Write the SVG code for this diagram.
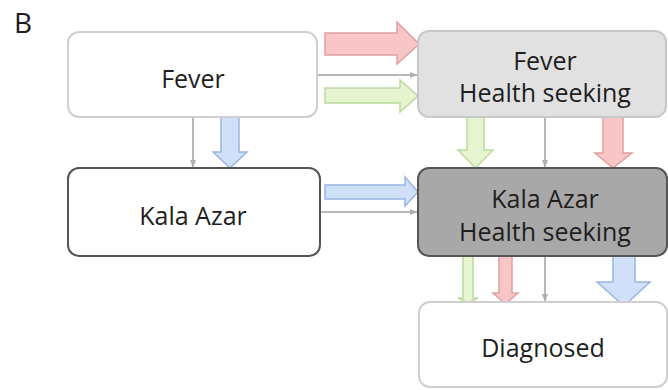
<svg xmlns="http://www.w3.org/2000/svg" width="668" height="390" viewBox="0 0 668 390">
<defs>
<style>
text{font-family:"Open Sans","Liberation Sans",sans-serif;fill:#1e1e1e;text-anchor:middle;font-size:25px}
.box{stroke-width:2}
.thin{fill:none;stroke:#b8b8b8;stroke-width:2}
.red{fill:#f8c6c6;stroke:#e0a0a0;stroke-width:1.5}
.green{fill:#e6f5cf;stroke:#bcd9a0;stroke-width:1.5}
.blue{fill:#cfe0f8;stroke:#98b6e2;stroke-width:1.5}
</style>
<marker id="ah" viewBox="0 0 10 10" refX="9" refY="5" markerWidth="4" markerHeight="4" orient="auto">
<path d="M0,1 L10,5 L0,9 z" fill="#b0b0b0"/>
</marker>
</defs>
<rect width="668" height="390" fill="#fff"/>
<text x="14" y="33" style="text-anchor:start;font-size:28px">B</text>

<g id="connectors">
<line class="thin" x1="317" y1="75" x2="417" y2="75" marker-end="url(#ah)"/>
<line class="thin" x1="193" y1="117" x2="193" y2="167" marker-end="url(#ah)"/>
<line class="thin" x1="320" y1="212" x2="417" y2="212" marker-end="url(#ah)"/>
<line class="thin" x1="545" y1="117" x2="545" y2="167" marker-end="url(#ah)"/>
<line class="thin" x1="545" y1="256" x2="545" y2="301" marker-end="url(#ah)"/>
<path class="red" d="M325,33 H397 V22 L419,44 L397,64 V55 H325 Z"/>
<path class="green" d="M325,88 H400 V80 L418,96 L400,112 V103 H325 Z"/>
<path class="blue" d="M221,117 H239 V152 H247 L230,168 L213,152 H221 Z"/>
<path class="blue" d="M325,185 H405 V177 L418,192 L405,206 V199 H325 Z"/>
<path class="green" d="M467,117 H484 V150 H493 L475.5,168 L458,150 H467 Z"/>
<path class="red" d="M603,117 H623 V153 H632 L613,168 L595,153 H603 Z"/>
<path class="green" d="M463,256 H473 V298 H478 L468,303 L458,298 H463 Z"/>
<path class="red" d="M499,256 H512 V293 H518 L505.5,304 L493,293 H499 Z"/>
<path class="blue" d="M613,256 H635 V282 H650 L624,306 L597,282 H613 Z"/>
</g>

<g id="fever">
<rect class="box" x="68" y="32" width="249" height="85" rx="11" fill="#fff" stroke="#cfcfcf"/>
<text x="193" y="88">Fever</text>
</g>
<g id="fever-hs">
<rect class="box" x="418" y="31" width="248" height="86" rx="11" fill="#e1e1e1" stroke="#c8c8c8"/>
<text x="545" y="70">Fever</text>
<text x="545" y="102">Health seeking</text>
</g>
<g id="kala-azar">
<rect class="box" x="68" y="168" width="252" height="88" rx="11" fill="#fff" stroke="#555"/>
<text x="193" y="225">Kala Azar</text>
</g>
<g id="kala-azar-hs">
<rect class="box" x="418" y="168" width="249" height="88" rx="11" fill="#a8a8a8" stroke="#555"/>
<text x="545" y="208">Kala Azar</text>
<text x="545" y="241">Health seeking</text>
</g>
<g id="diagnosed">
<rect class="box" x="419" y="302" width="248" height="85" rx="11" fill="#fff" stroke="#cfcfcf"/>
<text x="543" y="357">Diagnosed</text>
</g>
</svg>
